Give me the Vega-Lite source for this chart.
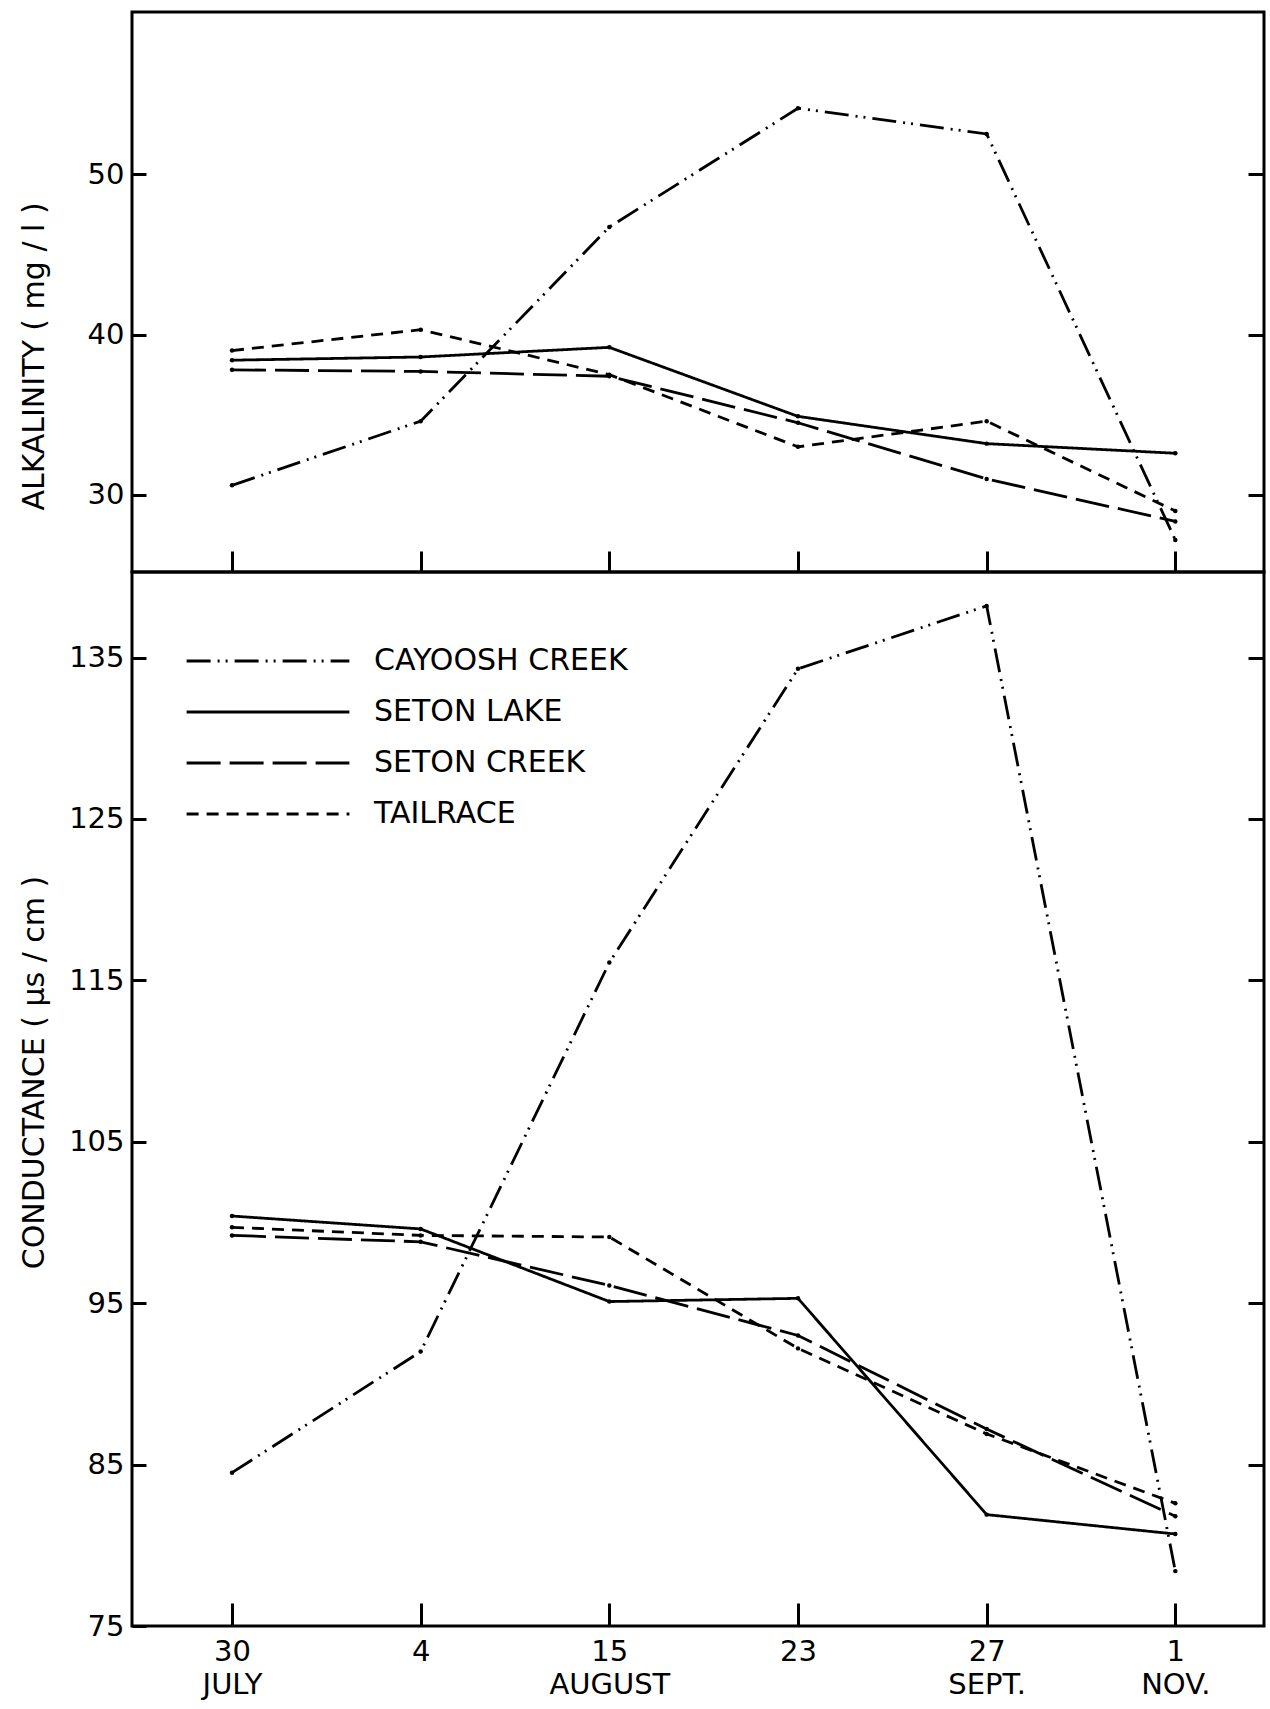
{
  "$schema": "https://vega.github.io/schema/vega-lite/v6.json",
  "background": "white",
  "padding": {"left": 17, "top": 10, "right": 4, "bottom": 4},
  "config": {
    "font": "DejaVu Sans",
    "view": {"stroke": "black", "strokeWidth": 3},
    "axis": {
      "grid": false, "domain": false, "tickColor": "black", "tickWidth": 3,
      "labelColor": "black", "titleColor": "black",
      "labelFont": "DejaVu Sans", "titleFont": "DejaVu Sans",
      "labelFontSize": 29, "titleFontSize": 30,
      "titleFontWeight": "normal", "labelFontWeight": "normal",
      "labelOverlap": false
    }
  },
  "datasets": {
    "alk": [
      {"date": "30\nJULY", "site": "CAYOOSH CREEK", "alkalinity": 30.6},
      {"date": "4", "site": "CAYOOSH CREEK", "alkalinity": 34.6},
      {"date": "15\nAUGUST", "site": "CAYOOSH CREEK", "alkalinity": 46.7},
      {"date": "23", "site": "CAYOOSH CREEK", "alkalinity": 54.1},
      {"date": "27\nSEPT.", "site": "CAYOOSH CREEK", "alkalinity": 52.5},
      {"date": "1\nNOV.", "site": "CAYOOSH CREEK", "alkalinity": 27.2},
      {"date": "30\nJULY", "site": "SETON LAKE", "alkalinity": 38.4},
      {"date": "4", "site": "SETON LAKE", "alkalinity": 38.6},
      {"date": "15\nAUGUST", "site": "SETON LAKE", "alkalinity": 39.2},
      {"date": "23", "site": "SETON LAKE", "alkalinity": 34.9},
      {"date": "27\nSEPT.", "site": "SETON LAKE", "alkalinity": 33.2},
      {"date": "1\nNOV.", "site": "SETON LAKE", "alkalinity": 32.6},
      {"date": "30\nJULY", "site": "SETON CREEK", "alkalinity": 37.8},
      {"date": "4", "site": "SETON CREEK", "alkalinity": 37.7},
      {"date": "15\nAUGUST", "site": "SETON CREEK", "alkalinity": 37.4},
      {"date": "23", "site": "SETON CREEK", "alkalinity": 34.5},
      {"date": "27\nSEPT.", "site": "SETON CREEK", "alkalinity": 31.0},
      {"date": "1\nNOV.", "site": "SETON CREEK", "alkalinity": 28.35},
      {"date": "30\nJULY", "site": "TAILRACE", "alkalinity": 39.0},
      {"date": "4", "site": "TAILRACE", "alkalinity": 40.3},
      {"date": "15\nAUGUST", "site": "TAILRACE", "alkalinity": 37.5},
      {"date": "23", "site": "TAILRACE", "alkalinity": 33.0},
      {"date": "27\nSEPT.", "site": "TAILRACE", "alkalinity": 34.6},
      {"date": "1\nNOV.", "site": "TAILRACE", "alkalinity": 29.0}
    ],
    "cond": [
      {"date": "30\nJULY", "site": "CAYOOSH CREEK", "conductance": 84.5},
      {"date": "4", "site": "CAYOOSH CREEK", "conductance": 92.0},
      {"date": "15\nAUGUST", "site": "CAYOOSH CREEK", "conductance": 116.1},
      {"date": "23", "site": "CAYOOSH CREEK", "conductance": 134.3},
      {"date": "27\nSEPT.", "site": "CAYOOSH CREEK", "conductance": 138.2},
      {"date": "1\nNOV.", "site": "CAYOOSH CREEK", "conductance": 78.4},
      {"date": "30\nJULY", "site": "SETON LAKE", "conductance": 100.4},
      {"date": "4", "site": "SETON LAKE", "conductance": 99.6},
      {"date": "15\nAUGUST", "site": "SETON LAKE", "conductance": 95.1},
      {"date": "23", "site": "SETON LAKE", "conductance": 95.3},
      {"date": "27\nSEPT.", "site": "SETON LAKE", "conductance": 81.9},
      {"date": "1\nNOV.", "site": "SETON LAKE", "conductance": 80.7},
      {"date": "30\nJULY", "site": "SETON CREEK", "conductance": 99.2},
      {"date": "4", "site": "SETON CREEK", "conductance": 98.8},
      {"date": "15\nAUGUST", "site": "SETON CREEK", "conductance": 96.1},
      {"date": "23", "site": "SETON CREEK", "conductance": 93.0},
      {"date": "27\nSEPT.", "site": "SETON CREEK", "conductance": 87.2},
      {"date": "1\nNOV.", "site": "SETON CREEK", "conductance": 81.8},
      {"date": "30\nJULY", "site": "TAILRACE", "conductance": 99.7},
      {"date": "4", "site": "TAILRACE", "conductance": 99.2},
      {"date": "15\nAUGUST", "site": "TAILRACE", "conductance": 99.1},
      {"date": "23", "site": "TAILRACE", "conductance": 92.2},
      {"date": "27\nSEPT.", "site": "TAILRACE", "conductance": 86.9},
      {"date": "1\nNOV.", "site": "TAILRACE", "conductance": 82.6}
    ]
  },
  "spacing": 0,
  "bounds": "flush",
  "resolve": {
    "scale": {"strokeDash": "independent", "y": "independent"},
    "legend": {"strokeDash": "independent"}
  },
  "vconcat": [
    {
      "width": 1132,
      "height": 560,
      "data": {"name": "alk"},
      "encoding": {
        "x": {
          "field": "date", "type": "ordinal",
          "scale": {"type": "point", "domain": ["30\nJULY", "4", "15\nAUGUST", "23", "27\nSEPT.", "1\nNOV."], "padding": 0.5, "align": 0.53},
          "axis": {"labels": false, "title": null, "tickSize": -21}
        }
      },
      "layer": [
        {
          "mark": {"type": "line", "color": "black", "strokeWidth": 2.8},
          "encoding": {
            "y": {
              "field": "alkalinity", "type": "quantitative",
              "scale": {"domain": [25.2, 60.1], "nice": false, "zero": false},
              "axis": {"values": [30, 40, 50], "tickSize": -14, "labelPadding": 22, "title": "ALKALINITY ( mg / l )", "titlePadding": 28, "minExtent": 55, "maxExtent": 55, "titleY": 344}
            },
            "strokeDash": {
              "field": "site", "type": "nominal",
              "scale": {"domain": ["CAYOOSH CREEK", "SETON LAKE", "SETON CREEK", "TAILRACE"], "range": [[24, 7, 2, 6, 2, 7], [1, 0], [34, 9], [12, 8]]},
              "legend": null
            },
            "order": {"value": null}
          }
        },
        {
          "mark": {"type": "point", "filled": true, "color": "black", "size": 20, "opacity": 1},
          "encoding": {
            "y": {
              "field": "alkalinity", "type": "quantitative",
              "axis": {"orient": "right", "values": [30, 40, 50], "labels": false, "title": null, "tickSize": -16, "minExtent": 0, "maxExtent": 0}
            }
          }
        }
      ],
      "resolve": {"axis": {"y": "independent"}}
    },
    {
      "width": 1132,
      "height": 1054,
      "data": {"name": "cond"},
      "encoding": {
        "x": {
          "field": "date", "type": "ordinal",
          "scale": {"type": "point", "domain": ["30\nJULY", "4", "15\nAUGUST", "23", "27\nSEPT.", "1\nNOV."], "padding": 0.5, "align": 0.53},
          "axis": {"title": null, "tickSize": -23, "labelPadding": 34, "labelAngle": 0, "labelBaseline": "top", "labelLineHeight": 33, "labelExpr": "split(datum.label, '\\n')"}
        }
      },
      "layer": [
        {
          "mark": {"type": "line", "color": "black", "strokeWidth": 2.8},
          "encoding": {
            "y": {
              "field": "conductance", "type": "quantitative",
              "scale": {"domain": [75, 140.3], "nice": false, "zero": false},
              "axis": {"values": [75, 85, 95, 105, 115, 125, 135], "tickSize": -14, "labelPadding": 22, "title": "CONDUCTANCE ( μs / cm )", "titlePadding": 28, "minExtent": 55, "maxExtent": 55, "titleY": 500}
            },
            "strokeDash": {
              "field": "site", "type": "nominal",
              "scale": {"domain": ["CAYOOSH CREEK", "SETON LAKE", "SETON CREEK", "TAILRACE"], "range": [[24, 7, 2, 6, 2, 7], [1, 0], [34, 9], [12, 8]]},
              "legend": {
                "orient": "none", "legendX": 53, "legendY": 74, "title": null, "padding": 0,
                "symbolType": "stroke", "symbolSize": 26500, "symbolStrokeWidth": 2.8, "symbolStrokeColor": "black",
                "labelFontSize": 30, "labelColor": "black", "labelFont": "DejaVu Sans", "labelOffset": 23,
                "rowPadding": 21, "clipHeight": 30, "labelLimit": 400
              }
            },
            "order": {"value": null}
          }
        },
        {
          "mark": {"type": "point", "filled": true, "color": "black", "size": 20, "opacity": 1},
          "encoding": {
            "y": {
              "field": "conductance", "type": "quantitative",
              "axis": {"orient": "right", "values": [85, 95, 105, 115, 125, 135], "labels": false, "title": null, "tickSize": -16, "minExtent": 0, "maxExtent": 0}
            }
          }
        }
      ],
      "resolve": {"axis": {"y": "independent"}}
    }
  ]
}
